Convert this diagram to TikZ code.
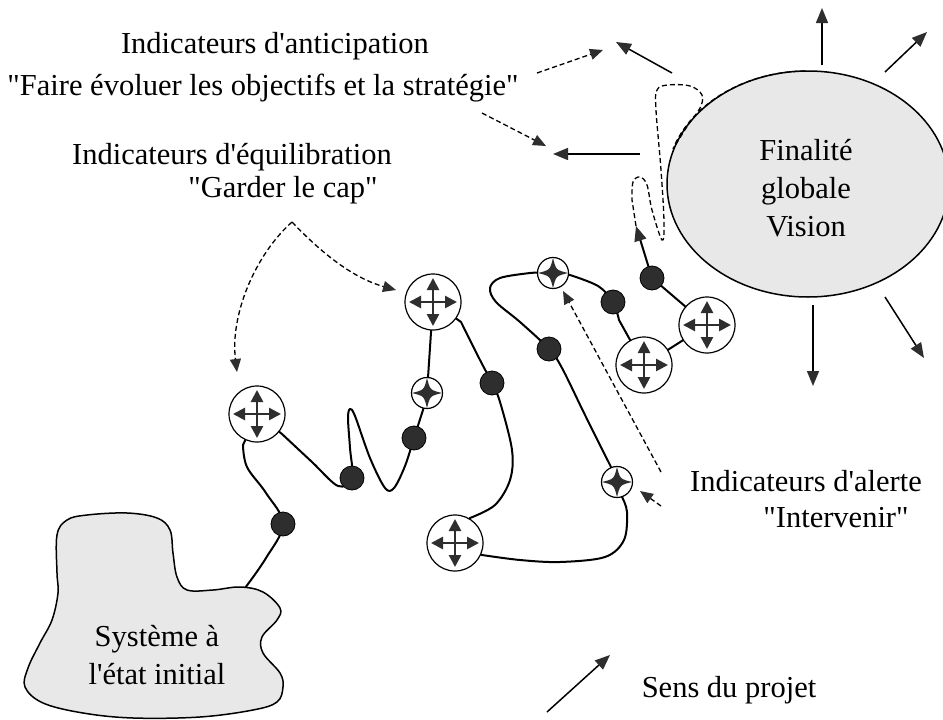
\documentclass[tikz,border=0pt]{standalone}
\usepackage{fontspec}
\setmainfont{Liberation Serif}[Ligatures=TeXOff]
\usetikzlibrary{arrows.meta,shapes.geometric,backgrounds}
\definecolor{dk}{HTML}{2E2E2E}
\definecolor{fillg}{HTML}{E8E8E8}
\begin{document}
\begin{tikzpicture}[x=1pt,y=-1pt,
  txt/.style={font=\fontsize{30.5}{38}\selectfont, inner sep=0pt, align=center},
  traj/.style={line width=2pt, line cap=round, line join=round},
  tri/.style={-{Triangle[length=15pt,width=12pt,fill=dk,color=dk]}},
  ray/.style={line width=1.5pt, tri},
  dsh/.style={line width=1.3pt, dash pattern=on 5pt off 3pt},
  darr/.style={dsh, -{Triangle[length=13pt,width=11pt,fill=dk,color=dk]}},
  crossbox/.style={circle, draw, fill=white, line width=1.2pt, minimum size=56pt, inner sep=0pt,
    path picture={\begin{scope}[shift={(path picture bounding box.center)}]
      \draw[line width=2.6pt, dk, {Triangle[length=12pt,width=12pt]}-{Triangle[length=12pt,width=12pt]}] (-24,0) -- (24,0);
      \draw[line width=2.6pt, dk, {Triangle[length=12pt,width=12pt]}-{Triangle[length=12pt,width=12pt]}] (0,-24) -- (0,24);
    \end{scope}}},
  starbox/.style={circle, draw, fill=white, line width=1.2pt, minimum size=31pt, inner sep=0pt,
    path picture={\begin{scope}[shift={(path picture bounding box.center)}]
      \fill[dk] (0,-15) .. controls (3,-3) .. (15,0) .. controls (3,3) .. (0,15) .. controls (-3,3) .. (-15,0) .. controls (-3,-3) .. (0,-15) -- cycle;
    \end{scope}}},
  dotnode/.style={circle, fill=dk, draw=black, line width=0.8pt, minimum size=24pt, inner sep=0pt}
]
\useasboundingbox (0,0) rectangle (943,720);

% initial system blob
\draw[line width=1.5pt, fill=fillg] plot[smooth cycle, tension=0.6] coordinates {
  (57,535) (67,520) (87,515) (127,513) (157,518) (170,530) (173,553) (177,577) (187,590)
  (213,590) (240,587) (263,592) (280,608) (277,620) (262,637) (263,653) (280,673) (283,687)
  (277,702) (253,710) (200,717) (133,718) (83,713) (43,703) (25,687) (28,668) (40,643)
  (52,620) (58,593) (57,573)};
\node[txt] (sys) at (157,655) {Système à\\l'état initial};
\coordinate (b0) at (245,588);

% final ellipse
\node[ellipse, draw, fill=fillg, line width=1.5pt, minimum width=282pt, minimum height=226pt] (fin) at (808,184) {};
\node[txt] (fintxt) at (806,188) {Finalité\\globale\\Vision};

% symbols
\node[crossbox] (c1) at (257,414) {};
\node[crossbox] (c2) at (433,302) {};
\node[crossbox] (c3) at (455,543) {};
\node[crossbox] (c4) at (644,365) {};
\node[crossbox] (c5) at (707,325) {};
\node[starbox] (s1) at (427,393) {};
\node[starbox] (s2) at (617,482) {};
\node[starbox] (s3) at (553,273) {};
\node[dotnode] (d1) at (283,524) {};
\node[dotnode] (d2) at (352,478) {};
\node[dotnode] (d3) at (414,438) {};
\node[dotnode] (d4) at (492,383) {};
\node[dotnode] (d5) at (549,349) {};
\node[dotnode] (d6) at (613,302) {};
\node[dotnode] (d7) at (652,278) {};
\coordinate (tp) at (636,226);

% trajectory (behind the symbols)
\begin{pgfonlayer}{background}
\fill[white] (0,0) rectangle (943,720);
\draw[traj] plot[smooth,tension=0.6] coordinates {(b0) (266,558) (d1.center) (266,493) (247,467) (243,445)} -- (c1.center);
\draw[traj] (c1.center) -- plot[smooth,tension=0.55] coordinates {(282,434) (312,462) (338,486) (d2.center) (350,448) (348,418) (350,409) (355,416) (370,458) (385,488) (394,488) (405,466) (d3.center) (423,410)} -- (s1.center);
\draw[traj] (s1.center) -- (c2.center);
\draw[traj] (c2.center) -- plot[smooth,tension=0.55] coordinates {(461,322) (480,360) (d4.center) (500,402) (512,450) (510,480) (495,505) (470,518)} -- (c3.center);
\draw[traj] (c3.center) -- plot[smooth,tension=0.55] coordinates {(482,555) (520,560) (560,562) (605,557) (624,540) (627,512) (622,497)} -- (s2.center);
\draw[traj] (s2.center) -- plot[smooth,tension=0.55] coordinates {(611,467) (585,415) (562,368) (d5.center) (520,322) (496,302) (490,288) (500,278) (530,273) (540,273)} -- (s3.center);
\draw[traj] (s3.center) -- plot[smooth,tension=0.55] coordinates {(570,275) (598,286) (d6.center) (619,320)} -- (c4.center);
\draw[traj] (c4.center) -- (c5.center);
\draw[traj] (c5.center) -- (d7.center);
\draw[traj, line cap=butt, tri] (d7.center) -- (tp);
\end{pgfonlayer}

% dashed continuation hugging the vision
\draw[dsh] (tp) -- plot[smooth,tension=0.6] coordinates {(632,200) (633,182) (640,177) (647,185) (652,210) (662,240) (664,222) (661,170) (656,110) (657,90) (668,85) (690,86) (702,95) (700,108) (688,125) (673,149)}
  arc[start angle=-162,end angle=-90,x radius=142,y radius=113];

% rays around the vision
\coordinate (r1a) at (822,65);  \coordinate (r1b) at (822,8);
\coordinate (r2a) at (885,72);  \coordinate (r2b) at (927,32);
\coordinate (r3a) at (813,305); \coordinate (r3b) at (813,386);
\coordinate (r4a) at (885,297); \coordinate (r4b) at (924,358);
\coordinate (r5a) at (672,73);  \coordinate (r5b) at (616,42);
\coordinate (r6a) at (640,154); \coordinate (r6b) at (553,154);
\draw[ray] (r1a) -- (r1b);
\draw[ray] (r2a) -- (r2b);
\draw[ray] (r3a) -- (r3b);
\draw[ray] (r4a) -- (r4b);
\draw[ray] (r5a) -- (r5b);
\draw[ray] (r6a) -- (r6b);

% labels
\node[txt] (ant1) at (275,46) {Indicateurs d'anticipation};
\node[txt] (ant2) at (263,88) {"Faire évoluer les objectifs et la stratégie"};
\node[txt] (eq1) at (232,157) {Indicateurs d'équilibration};
\node[txt] (eq2) at (283,190) {"Garder le cap"};
\node[txt] (al1) at (806,481) {Indicateurs d'alerte};
\node[txt] (al2) at (836,518) {"Intervenir"};
\node[txt] (sens) at (729,690) {Sens du projet};

% dashed indicator arrows
\coordinate (a1s) at (537,73);  \coordinate (a1t) at (603,50);
\coordinate (a2s) at (482,113); \coordinate (a2t) at (546,146);
\draw[darr] (a1s) -- (a1t);
\draw[darr] (a2s) -- (a2t);
\coordinate (eqf) at (292,222);
\draw[darr] (eqf) .. controls (330,262) and (360,280) .. (396,290);
\draw[darr] (eqf) .. controls (255,255) and (230,315) .. (237,372);
\coordinate (al1s) at (661,472); \coordinate (al1t) at (563,291);
\coordinate (al2s) at (661,506); \coordinate (al2t) at (640,491);
\draw[darr] (al1s) -- (al1t);
\draw[darr] (al2s) -- (al2t);

% direction of the project
\coordinate (sensa) at (547,712); \coordinate (sensb) at (610,655);
\draw[ray] (sensa) -- (sensb);
\end{tikzpicture}
\end{document}
